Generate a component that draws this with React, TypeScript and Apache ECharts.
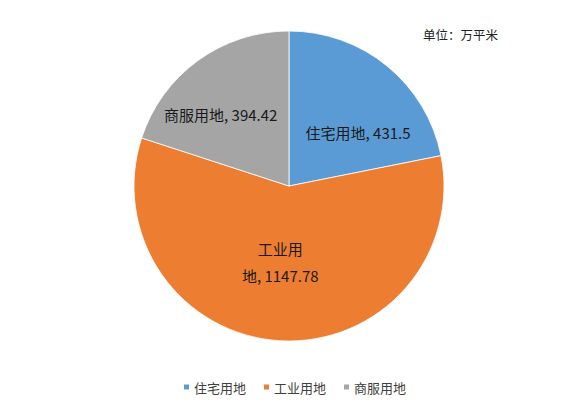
import React, { useEffect, useRef } from "react";
import * as echarts from "echarts";

const categories = ["住宅用地", "工业用地", "商服用地"];
const values = [431.5, 1147.78, 394.42];
const labelTexts = ["住宅用地, 431.5", "工业用\n地, 1147.78", "商服用地, 394.42"];
const colors = ["#5B9BD5", "#ED7D31", "#A5A5A5"];
const labelOffsets = [[18, 9], [-4, -4], [-21, -6]];
const unitText = "单位：万平米";

export default function App() {
  const ref = useRef<HTMLDivElement>(null);
  useEffect(() => {
    const chart = echarts.init(ref.current!, null, { renderer: "svg" });
    chart.setOption({
      animation: false,
      color: colors,
      textStyle: { fontFamily: "'Noto Sans CJK SC', 'Noto Sans', sans-serif" },
      graphic: [
        {
          type: "text",
          left: 415,
          top: 20,
          style: { text: unitText, fontSize: 12.5, fill: "#222", fontFamily: "'Noto Sans CJK SC', sans-serif" },
        },
      ],
      legend: {
        top: 372,
        left: "center",
        padding: 0,
        itemWidth: 7,
        itemHeight: 7,
        itemGap: 16,
        icon: "rect",
        textStyle: { fontSize: 13, lineHeight: 14, color: "#404040", padding: [0, 0, 0, -1] },
        data: categories,
      },
      series: [
        {
          type: "pie",
          center: [281, 178],
          radius: [0, 155],
          startAngle: 90,
          clockwise: true,
          itemStyle: { borderColor: "#fff", borderWidth: 0.8 },
          label: {
            show: true,
            position: "inside",
            fontSize: 15,
            color: "#1a1a1a",
            lineHeight: 27,
            align: "center",
          },
          labelLine: { show: false },
          emphasis: { disabled: true },
          data: categories.map((c, i) => ({
            name: c,
            value: values[i],
            label: { formatter: labelTexts[i], offset: labelOffsets[i] },
          })),
        },
      ],
    });
    return () => chart.dispose();
  }, []);
  return <div ref={ref} style={{ width: 572, height: 389 }} />;
}
